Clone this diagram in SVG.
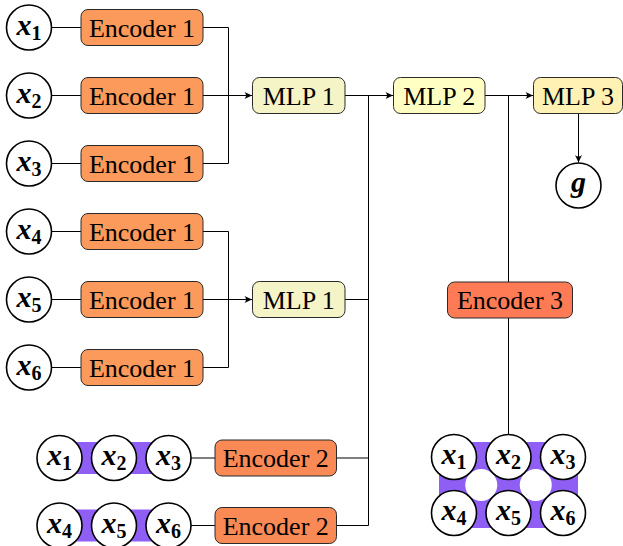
<svg xmlns="http://www.w3.org/2000/svg" width="623" height="546" viewBox="0 0 623 546">
<defs>
<style>
.bg{fill:#ffffff}
.nd{fill:#ffffff;stroke:#000;stroke-width:1.6}
.box{stroke:#2a2a2a;stroke-width:1}
.e1{fill:#fb9a5a}.e2{fill:#f98a55}.e3{fill:#ff7b55}
.m1{fill:#f4f4c6}.m2{fill:#ffffc4}.m3{fill:#fff1b4}
.t{font-family:"Liberation Serif","Times New Roman",serif;font-size:26px;fill:#000;text-anchor:middle}
.mx{font-family:"Liberation Serif","Times New Roman",serif;font-style:italic;font-weight:bold;font-size:30px}
.sb{font-family:"Liberation Serif","Times New Roman",serif;font-weight:bold;font-size:20px;font-style:normal}
.c{fill:none;stroke:#000;stroke-width:1}
.pu{fill:#8f5ff5}
.hole{fill:#ffffff}
</style>
<marker id="ar" viewBox="-8 -4 9 8" refX="0" refY="0" markerWidth="9" markerHeight="8" markerUnits="userSpaceOnUse" orient="auto">
<path d="M0,0 L-7.5,-3.5 Q-4.5,0 -7.5,3.5 Z" fill="#000"/>
</marker>
</defs>
<rect class="bg" x="0" y="0" width="623" height="546"/>

<g id="connectors">
<path class="c" d="M51.5,27.5H81M51.5,95.5H81M51.5,163.5H81M51.5,231.5H81M51.5,299.5H81M51.5,367.5H81"/>
<path class="c" d="M203,27.5H228.5V163.5H203"/>
<path class="c" d="M203,95.5H252" marker-end="url(#ar)"/>
<path class="c" d="M203,231.5H228.5V367.5H203"/>
<path class="c" d="M203,299.5H252" marker-end="url(#ar)"/>
<path class="c" d="M345,299.5H368.5M336.5,458H368.5M336.5,525.5H368.5M368.5,95.5V525.5"/>
<path class="c" d="M345,95.5H393" marker-end="url(#ar)"/>
<path class="c" d="M485,95.5H533" marker-end="url(#ar)"/>
<path class="c" d="M508.5,95.5V282M508.5,318V435"/>
<path class="c" d="M578.5,113.5V162.5" marker-end="url(#ar)"/>
<path class="c" d="M190.5,458H215M190.5,525.5H215"/>
</g>

<g id="x1"><circle class="nd" cx="29" cy="27.5" r="22.5"/><text class="t" x="29" y="34.5"><tspan class="mx">x</tspan><tspan class="sb" dy="5">1</tspan></text></g>
<g id="x2"><circle class="nd" cx="29" cy="95.5" r="22.5"/><text class="t" x="29" y="102.5"><tspan class="mx">x</tspan><tspan class="sb" dy="5">2</tspan></text></g>
<g id="x3"><circle class="nd" cx="29" cy="163.5" r="22.5"/><text class="t" x="29" y="170.5"><tspan class="mx">x</tspan><tspan class="sb" dy="5">3</tspan></text></g>
<g id="x4"><circle class="nd" cx="29" cy="231.5" r="22.5"/><text class="t" x="29" y="238.5"><tspan class="mx">x</tspan><tspan class="sb" dy="5">4</tspan></text></g>
<g id="x5"><circle class="nd" cx="29" cy="299.5" r="22.5"/><text class="t" x="29" y="306.5"><tspan class="mx">x</tspan><tspan class="sb" dy="5">5</tspan></text></g>
<g id="x6"><circle class="nd" cx="29" cy="367.5" r="22.5"/><text class="t" x="29" y="374.5"><tspan class="mx">x</tspan><tspan class="sb" dy="5">6</tspan></text></g>

<g id="enc1a"><rect class="box e1" x="81" y="9.5" width="122" height="36" rx="7"/><text class="t" x="142" y="36.5">Encoder 1</text></g>
<g id="enc1b"><rect class="box e1" x="81" y="77.5" width="122" height="36" rx="7"/><text class="t" x="142" y="104.5">Encoder 1</text></g>
<g id="enc1c"><rect class="box e1" x="81" y="145.5" width="122" height="36" rx="7"/><text class="t" x="142" y="172.5">Encoder 1</text></g>
<g id="enc1d"><rect class="box e1" x="81" y="213.5" width="122" height="36" rx="7"/><text class="t" x="142" y="240.5">Encoder 1</text></g>
<g id="enc1e"><rect class="box e1" x="81" y="281.5" width="122" height="36" rx="7"/><text class="t" x="142" y="308.5">Encoder 1</text></g>
<g id="enc1f"><rect class="box e1" x="81" y="349.5" width="122" height="36" rx="7"/><text class="t" x="142" y="376.5">Encoder 1</text></g>

<g id="mlp1a"><rect class="box m1" x="252.5" y="77.5" width="92.5" height="36" rx="7"/><text class="t" x="298.75" y="104.5">MLP 1</text></g>
<g id="mlp1b"><rect class="box m1" x="252.5" y="281.5" width="92.5" height="36" rx="7"/><text class="t" x="298.75" y="308.5">MLP 1</text></g>
<g id="mlp2"><rect class="box m2" x="393.5" y="77.5" width="91.5" height="36" rx="7"/><text class="t" x="439.25" y="104.5">MLP 2</text></g>
<g id="mlp3"><rect class="box m3" x="533.5" y="77.5" width="89" height="36" rx="7"/><text class="t" x="578" y="104.5">MLP 3</text></g>

<g id="g"><circle class="nd" cx="578.5" cy="185.5" r="22.5"/><text class="t" x="578.5" y="192"><tspan class="mx">g</tspan></text></g>

<g id="enc3"><rect class="box e3" x="447.5" y="282" width="125" height="36" rx="7"/><text class="t" x="510" y="309">Encoder 3</text></g>

<g id="enc2a"><rect class="box e2" x="215" y="440" width="121.5" height="36" rx="7"/><text class="t" x="275.75" y="467">Encoder 2</text></g>
<g id="enc2b"><rect class="box e2" x="215" y="507.5" width="121.5" height="36" rx="7"/><text class="t" x="275.75" y="534.5">Encoder 2</text></g>

<g id="set1">
<rect class="pu" x="59.5" y="442" width="109" height="32"/>
<circle class="nd" cx="59.5" cy="458" r="22.5"/><text class="t" x="59.5" y="465"><tspan class="mx">x</tspan><tspan class="sb" dy="5">1</tspan></text>
<circle class="nd" cx="114" cy="458" r="22.5"/><text class="t" x="114" y="465"><tspan class="mx">x</tspan><tspan class="sb" dy="5">2</tspan></text>
<circle class="nd" cx="168.5" cy="458" r="22.5"/><text class="t" x="168.5" y="465"><tspan class="mx">x</tspan><tspan class="sb" dy="5">3</tspan></text>
</g>
<g id="set2">
<rect class="pu" x="59.5" y="509.5" width="109" height="32"/>
<circle class="nd" cx="59.5" cy="525.5" r="22.5"/><text class="t" x="59.5" y="532.5"><tspan class="mx">x</tspan><tspan class="sb" dy="5">4</tspan></text>
<circle class="nd" cx="114" cy="525.5" r="22.5"/><text class="t" x="114" y="532.5"><tspan class="mx">x</tspan><tspan class="sb" dy="5">5</tspan></text>
<circle class="nd" cx="168.5" cy="525.5" r="22.5"/><text class="t" x="168.5" y="532.5"><tspan class="mx">x</tspan><tspan class="sb" dy="5">6</tspan></text>
</g>

<g id="grid">
<rect class="pu" x="439" y="442" width="139" height="86"/>
<circle class="hole" cx="481.25" cy="485" r="16"/>
<circle class="hole" cx="535.75" cy="485" r="16"/>
<circle class="nd" cx="454" cy="457" r="22.5"/><text class="t" x="454" y="464"><tspan class="mx">x</tspan><tspan class="sb" dy="5">1</tspan></text>
<circle class="nd" cx="508.5" cy="457" r="22.5"/><text class="t" x="508.5" y="464"><tspan class="mx">x</tspan><tspan class="sb" dy="5">2</tspan></text>
<circle class="nd" cx="563" cy="457" r="22.5"/><text class="t" x="563" y="464"><tspan class="mx">x</tspan><tspan class="sb" dy="5">3</tspan></text>
<circle class="nd" cx="454" cy="513" r="22.5"/><text class="t" x="454" y="520"><tspan class="mx">x</tspan><tspan class="sb" dy="5">4</tspan></text>
<circle class="nd" cx="508.5" cy="513" r="22.5"/><text class="t" x="508.5" y="520"><tspan class="mx">x</tspan><tspan class="sb" dy="5">5</tspan></text>
<circle class="nd" cx="563" cy="513" r="22.5"/><text class="t" x="563" y="520"><tspan class="mx">x</tspan><tspan class="sb" dy="5">6</tspan></text>
</g>
</svg>
